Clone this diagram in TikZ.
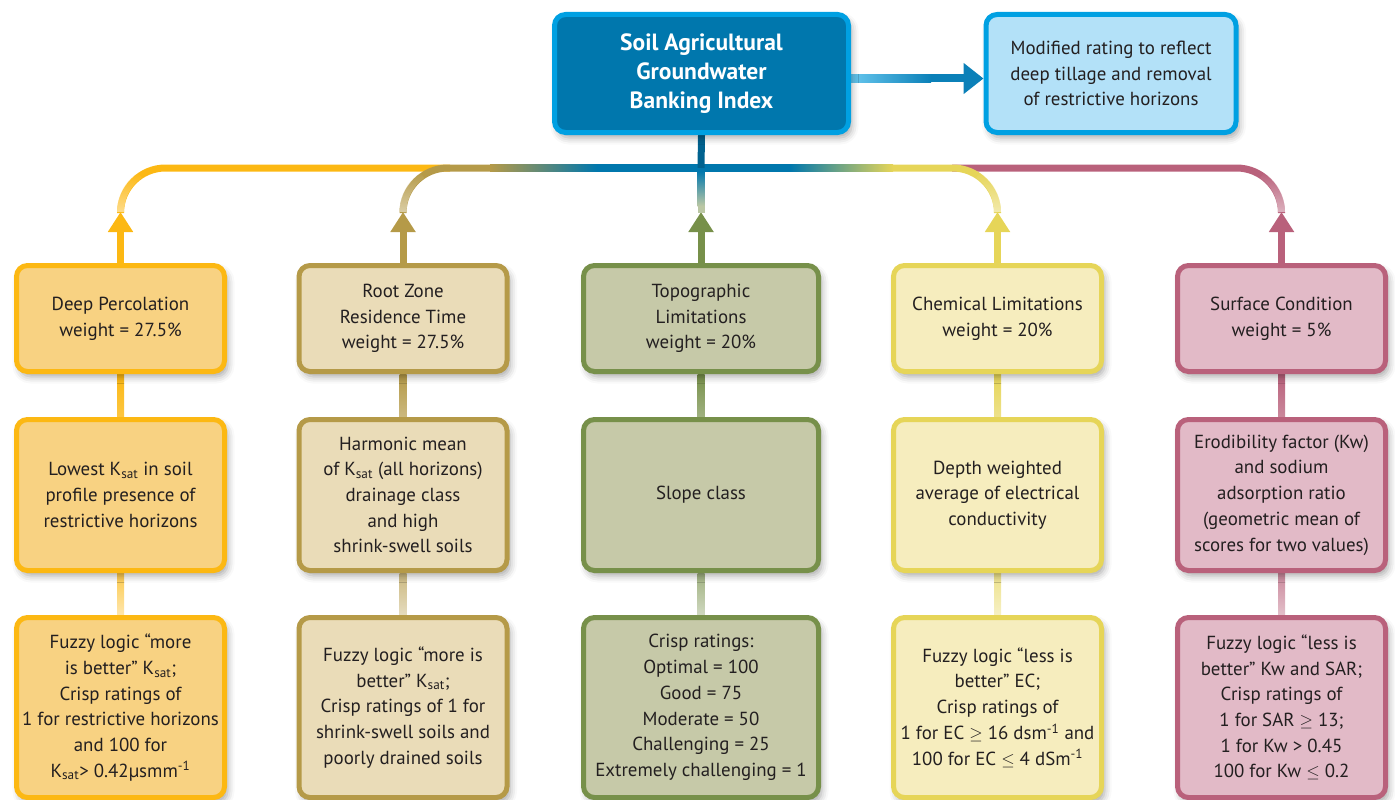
\documentclass[tikz,border=0pt]{standalone}
\usepackage{fontspec}
\setmainfont{PT Sans}
\usetikzlibrary{arrows.meta, shadows.blur, calc, fadings}
\pgfdeclarelayer{bg}
\pgfsetlayers{bg,main}

\definecolor{sagblue}{HTML}{0077AD}
\definecolor{sagstem}{HTML}{00628F}
\definecolor{skyline}{HTML}{00A0E2}
\definecolor{skyfill}{HTML}{B3E1F8}
\definecolor{arrowblue}{HTML}{0B80B8}
\definecolor{dpgold}{HTML}{FCB813}
\definecolor{dpfill}{HTML}{F8D282}
\definecolor{rztan}{HTML}{B59A48}
\definecolor{rzfill}{HTML}{EADCB8}
\definecolor{tpolive}{HTML}{77904A}
\definecolor{tpfill}{HTML}{C6C9A8}
\definecolor{clyellow}{HTML}{E6D558}
\definecolor{clfill}{HTML}{F6EDBE}
\definecolor{scrose}{HTML}{B9617B}
\definecolor{scfill}{HTML}{E2BAC7}
\definecolor{ink}{HTML}{231F20}

\newcommand{\Ksat}{K\textsubscript{sat}}
\newcommand{\inv}{\textsuperscript{-1}}

\begin{document}
\begin{tikzpicture}[x=1pt, y=-1pt,
    box/.style={draw, line width=5pt, rounded corners=11pt, align=center, text=ink,
      font=\fontsize{18.9}{25.7}\selectfont, inner sep=2pt, minimum width=208pt,
      blur shadow={shadow xshift=3pt, shadow yshift=-5pt, shadow opacity=35, shadow blur radius=7pt}},
    tier/.style={box, minimum height=106pt},
    basis/.style={box, minimum height=151pt},
    rating/.style={box, minimum height=180pt},
    dpcol/.style={fill=dpfill, draw=dpgold},
    rzcol/.style={fill=rzfill, draw=rztan},
    tpcol/.style={fill=tpfill, draw=tpolive, minimum width=235pt},
    clcol/.style={fill=clfill, draw=clyellow},
    sccol/.style={fill=scfill, draw=scrose},
    bus/.style={line width=7pt, rounded corners=45pt},
    riser/.style={line width=7pt, -{Triangle[width=24pt, length=20pt]}},
    fade/.style={line width=7pt, path fading=north},
  ]
  \useasboundingbox (0,0) rectangle (1395,800);

  % index and modified rating
  \node[box, fill=sagblue, draw=skyline, text=white, minimum width=294pt, minimum height=118pt,
    font=\fontsize{23.5}{29}\selectfont\bfseries]
    (sag) at (701.5,73.5) {Soil Agricultural\\Groundwater\\Banking Index};
  \node[box, fill=skyfill, draw=skyline, minimum width=250pt, minimum height=118pt]
    (mod) at (1111,73.5) {Modified rating to reflect\\deep tillage and removal\\of restrictive horizons};

  % Deep percolation
  \node[tier, dpcol] (dp) at (120.5,318.5) {Deep Percolation\\weight = 27.5\%};
  \node[basis, dpcol] (dpM) at (120.5,495) {Lowest \Ksat{} in soil\\profile presence of\\restrictive horizons};
  \node[rating, dpcol] (dpR) at (120.5,707.5) {Fuzzy logic “more\\is better” \Ksat;\\Crisp ratings of\\1 for restrictive horizons\\and 100 for\\\Ksat{}> 0.42µsmm\inv};

  % Root zone
  \node[tier, rzcol] (rz) at (403,318.5) {Root Zone\\Residence Time\\weight = 27.5\%};
  \node[basis, rzcol] (rzM) at (403,495) {Harmonic mean\\of \Ksat{} (all horizons)\\drainage class\\and high\\shrink-swell soils};
  \node[rating, rzcol] (rzR) at (403,707.5) {Fuzzy logic “more is\\better” \Ksat;\\Crisp ratings of 1 for\\shrink-swell soils and\\poorly drained soils};

  % Topographic
  \node[tier, tpcol] (tp) at (701,318.5) {Topographic\\Limitations\\weight = 20\%};
  \node[basis, tpcol] (tpM) at (701,495) {Slope class};
  \node[rating, tpcol] (tpR) at (701,707.5) {Crisp ratings:\\Optimal = 100\\Good = 75\\Moderate = 50\\Challenging = 25\\Extremely challenging = 1};

  % Chemical
  \node[tier, clcol] (cl) at (997.5,318.5) {Chemical Limitations\\weight = 20\%};
  \node[basis, clcol] (clM) at (997.5,495) {Depth weighted\\average of electrical\\conductivity};
  \node[rating, clcol] (clR) at (997.5,707.5) {Fuzzy logic “less is\\better” EC;\\Crisp ratings of\\1 for EC $\geq$ 16 dsm\inv{} and\\100 for EC $\leq$ 4 dSm\inv};

  % Surface
  \node[tier, sccol] (sc) at (1281.5,318.5) {Surface Condition\\weight = 5\%};
  \node[basis, sccol] (scM) at (1281.5,495) {Erodibility factor (Kw)\\and sodium\\adsorption ratio\\(geometric mean of\\scores for two values)};
  \node[rating, sccol] (scR) at (1281.5,707.5) {Fuzzy logic “less is\\better” Kw and SAR;\\Crisp ratings of\\1 for SAR $\geq$ 13;\\1 for Kw > 0.45\\100 for Kw $\leq$ 0.2};

  \coordinate (hub) at (701,168);
  \coordinate (busL) at (450,168);
  \coordinate (busR) at (952,168);

  \begin{pgfonlayer}{bg}
    % index to modified rating
    \draw[line width=8pt, arrowblue, -{Triangle[width=30pt, length=20pt]}]
      ([yshift=-5pt]sag.east) -- ([yshift=-5pt]mod.west);
    \shade[left color=skyline!60, right color=arrowblue]
      ([yshift=-1pt]sag.east) rectangle ([xshift=80pt, yshift=-9pt]sag.east);

    % outer branches
    \draw[riser, dpgold] (dp.north) -- ++(0,-51) coordinate (dpTip);
    \draw[bus, dpgold] (dpTip) |- (busL);
    \draw[fade, dpgold!45] (dpTip) arc[start angle=180, end angle=235, radius=45];
    \draw[riser, scrose] (sc.north) -- ++(0,-51) coordinate (scTip);
    \draw[bus, scrose] (scTip) |- (busR);
    \draw[fade, scrose!45] (scTip) arc[start angle=0, end angle=-55, radius=45];

    % inner branches
    \draw[riser, rztan] (rz.north) -- ++(0,-51) coordinate (rzTip);
    \draw[bus, rztan] (rzTip) |- (hub);
    \draw[fade, rztan!45] (rzTip) arc[start angle=180, end angle=235, radius=45];
    \draw[riser, clyellow] (cl.north) -- ++(0,-51) coordinate (clTip);
    \draw[bus, clyellow] (clTip) |- (hub);
    \draw[fade, clyellow!45] (clTip) arc[start angle=0, end angle=-55, radius=45];

    % colour blend along the bus
    \shade[left color=rztan, right color=sagblue]
      ($(hub)+(-211,-3.6)$) rectangle ($(hub)+(-104,3.6)$);
    \fill[sagblue] ($(hub)+(-104.5,-3.6)$) rectangle ($(hub)+(89.5,3.6)$);
    \shade[left color=sagblue, right color=clyellow]
      ($(hub)+(89,-3.6)$) rectangle ($(hub)+(192,3.6)$);

    % centre stem
    \draw[line width=7pt, sagstem] (sag.south) -- (hub);
    \draw[riser, tpolive] (tp.north) -- ++(0,-51) coordinate (tpTip);
    \shade[top color=sagblue, bottom color=tpolive!50]
      ($(hub)+(-3.5,3)$) rectangle ($(tpTip)+(3.5,-6)$);
    \fill[tpolive!50] ($(tpTip)+(-3.5,-6)$) rectangle ($(tpTip)+(3.5,1)$);

    % links down each column
    \shade[top color=dpgold, bottom color=dpgold!80] ([xshift=-3.5pt]dp.south) rectangle ([xshift=3.5pt]dpM.north);
    \shade[top color=dpgold!75, bottom color=dpgold!35] ([xshift=-3.5pt]dpM.south) rectangle ([xshift=3.5pt]dpR.north);
    \shade[top color=rztan, bottom color=rztan!70] ([xshift=-3.5pt]rz.south) rectangle ([xshift=3.5pt]rzM.north);
    \shade[top color=rztan!70, bottom color=rztan!35] ([xshift=-3.5pt]rzM.south) rectangle ([xshift=3.5pt]rzR.north);
    \shade[top color=tpolive, bottom color=tpolive!70] ([xshift=-3.5pt]tp.south) rectangle ([xshift=3.5pt]tpM.north);
    \shade[top color=tpolive!70, bottom color=tpolive!35] ([xshift=-3.5pt]tpM.south) rectangle ([xshift=3.5pt]tpR.north);
    \shade[top color=clyellow, bottom color=clyellow!70] ([xshift=-3.5pt]cl.south) rectangle ([xshift=3.5pt]clM.north);
    \shade[top color=clyellow!70, bottom color=clyellow!35] ([xshift=-3.5pt]clM.south) rectangle ([xshift=3.5pt]clR.north);
    \shade[top color=scrose, bottom color=scrose!75] ([xshift=-3.5pt]sc.south) rectangle ([xshift=3.5pt]scM.north);
    \shade[top color=scrose!75, bottom color=scrose!40] ([xshift=-3.5pt]scM.south) rectangle ([xshift=3.5pt]scR.north);
  \end{pgfonlayer}
\end{tikzpicture}
\end{document}
